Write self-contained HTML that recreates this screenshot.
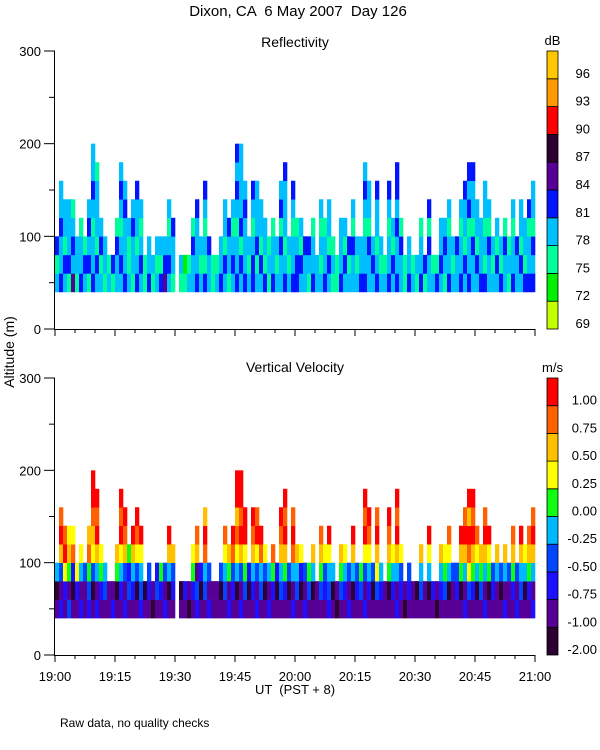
<!DOCTYPE html>
<html><head><meta charset="utf-8"><style>
html,body{margin:0;padding:0;background:#fff}
svg{display:block}
text{font-family:"Liberation Sans",sans-serif;fill:#000;white-space:pre}
</style></head><body>
<svg id="chart" width="600" height="750" viewBox="0 0 600 750">
<text x="298" y="16" font-size="15" text-anchor="middle" xml:space="preserve">Dixon, CA  6 May 2007  Day 126</text>
<text x="295" y="47" font-size="14" text-anchor="middle">Reflectivity</text>
<text x="295" y="372" font-size="14" text-anchor="middle">Vertical Velocity</text>
<text x="14" y="352" font-size="14" text-anchor="middle" transform="rotate(-90 14 352)">Altitude (m)</text>
<text x="295" y="694" font-size="13" text-anchor="middle" xml:space="preserve">UT  (PST + 8)</text>
<text x="60" y="727" font-size="12">Raw data, no quality checks</text>
<g id="top"></g>
<g id="bot"></g>
</svg>
<script>
// top altitude (m) of echo per 1-minute column after 19:00
const heights=[100,160,140,140,140,100,120,100,140,200,180,120,100,80,80,120,180,160,120,140,
160,140,80,100,80,100,100,100,140,120,40,80,80,80,120,140,100,160,100,80,
80,100,140,120,140,200,200,160,100,160,160,140,120,100,120,100,160,180,100,160,
120,120,100,100,120,80,140,120,140,100,80,120,120,100,140,100,100,180,160,100,
160,100,80,160,120,180,120,80,100,80,80,120,80,140,80,80,120,120,140,100,
100,140,160,180,180,140,120,160,140,100,120,100,120,100,140,100,140,120,140,160];
// reflectivity class per 20 m cell, from 40 m upward (0=69dB ... 9=96dB)
const dbCells=["32433233","43343333","34233433","24333233","53432333","23343333","43323323","34233333","24343333","43323433",
"34233323","32433333","23323333","32333333","24333333","33423333","34323433","43334333","32233333","23343333",
"43233433","34323333","22333333","43323333","23233333","32333333","42333333","54333333","34323333","23343333",
"33333333","23233333","21333333","32333333","33423333","43334333","32323333","42323433","33433333","22333333",
"32333333","43323333","34233333","23343333","34323333","43323434","34243333","43334333","32323333","44323433",
"32433333","34233333","42333333","23233333","43323333","32333333","33424333","43233343","32333333","43323433",
"44323333","34233333","33423333","23433333","43323333","33333333","32323333","43323333","34233333","23233333",
"22333333","43333333","34233333","32433333","33423333","32333333","43333333","43323434","33423333","34323333",
"43233433","32333333","32333333","43323433","34233333","43343443","33423333","22333333","43333333","32333333",
"23333333","43323333","24333333","33424333","32333333","42333333","34333333","23433333","43323333","32333333",
"33423333","43323333","34233433","43324343","33423343","34233333","43333333","42323333","33423333","32333333",
"34233333","42333333","33423333","23233333","43323333","33433333","34233333","42333333","43324333","43423343"];
// velocity class per 20 m cell, from 40 m upward (0=-2.00 ... 9=1.00)
const velCells=["10468999","21379899","12698799","31576999","10286999","12639999","21468999","11379999","23587999","10367899",
"21479899","12568999","13469999","11199999","21399999","10578999","12469899","21378999","13258999","12479899",
"10368999","23469999","10299999","12369999","01299999","13279999","12569999","21369999","10479999","12378999",
"11111111","10299999","12199999","01399999","12569999","23178999","10269999","13489799","21369999","11299999",
"11399999","10379999","13468999","21579899","12389999","10468799","21379899","13569999","10269999","12478999",
"21369899","13489999","10369999","21479999","12589999","10269999","13478999","12579899","10369999","21489899",
"13479999","10269999","21378999","13569999","10479999","11299999","13578999","12369999","23469999","10479999",
"01299999","13579999","12468999","21369999","10479999","12369999","13569999","21369899","12468999","10369999",
"13679899","12479999","11399999","10578999","12469999","21479899","12369999","01299999","12369999","11299999",
"10399999","13479999","11299999","10469999","12199999","01399999","12479999","13569999","10468999","11369999",
"12369999","10579899","21479899","13689799","12579899","10468999","13579999","21479899","10569999","12369999",
"11479999","10369999","21479999","11369999","12578999","21369999","13479999","10469999","12578999","21479899"];
const dbColors=["#c4ff00","#00f000","#00ff9c","#00bfff","#0014ff","#560096","#2c0030","#ff0000","#ff9a00","#ffc800"];
const dbLabels=["69","72","75","78","81","84","87","90","93","96"];
const velColors=["#2c0030","#560096","#1c10ff","#0046ff","#00b8ff","#10ff10","#ffff00","#ffc000","#ff6000","#ff0000"];
const velLabels=["-2.00","-1.00","-0.75","-0.50","-0.25","0.00","0.25","0.50","0.75","1.00"];
const xTickLabels=["19:00","19:15","19:30","19:45","20:00","20:15","20:30","20:45","21:00"];
const yTickLabels=["0","100","200","300"];

const NS="http://www.w3.org/2000/svg";
const X0=55,X1=535,T_MAX=120;
const xS=m=>X0+(m/T_MAX)*(X1-X0);
function mk(tag,attrs,parent){const e=document.createElementNS(NS,tag);for(const k in attrs)e.setAttribute(k,attrs[k]);parent.appendChild(e);return e;}

function panel(g,yBottom,yTop,cells,colors,labels,unit,showX){
  const yS=a=>yBottom-(a/300)*(yBottom-yTop);
  for(let i=0;i<heights.length;i++){
    const n=Math.round((heights[i]-40)/20);
    for(let c=0;c<n;c++){
      const r=mk('rect',{x:xS(i),y:yS(40+(c+1)*20),width:xS(i+1)-xS(i)+0.3,height:yS(40+c*20)-yS(40+(c+1)*20)+0.3,fill:colors[+cells[i][c]]},g);
      
      
    }
  }
  const ax=mk('path',{d:`M${X0-0.5} ${yTop} V${yBottom+0.5} H${X1+0.5}`,stroke:'#000','stroke-width':1,fill:'none'},g);
  
  
  for(let a=0;a<=300;a+=50){
    const major=a%100===0;
    const t=mk('line',{x1:X0-(major?11:6),x2:X0,y1:yS(a),y2:yS(a),stroke:'#000'},g);
    
    
    if(major){
      const tl=mk('text',{x:X0-14,y:yS(a)+5,'font-size':13,'text-anchor':'end'},g);
      tl.textContent=yTickLabels[a/100];
      
      
    }
  }
  for(let m=0;m<=T_MAX;m+=5){
    const major=m%15===0;
    const t=mk('line',{x1:xS(m),x2:xS(m),y1:yBottom,y2:yBottom+(major?7:4),stroke:'#000'},g);
    
    
    if(major&&showX){
      const tl=mk('text',{x:xS(m),y:yBottom+26,'font-size':13,'text-anchor':'middle'},g);
      tl.textContent=xTickLabels[m/15];
      
      
    }
  }
  const cbX=547,cbW=11,bh=(yBottom-yTop)/colors.length;
  for(let k=0;k<colors.length;k++){
    const y=yBottom-(k+1)*bh;
    const r=mk('rect',{x:cbX,y:y,width:cbW,height:bh,fill:colors[k],stroke:'#000','stroke-width':0.8},g);
    
    
    const tl=mk('text',{x:unit==='dB'?590:597,y:y+bh-1,'font-size':13,'text-anchor':'end'},g);
    tl.textContent=labels[k];
    
    
  }
  const u=mk('text',{x:cbX+cbW/2,y:yTop-6,'font-size':13,'text-anchor':'middle'},g);
  u.textContent=unit;
  
  
}
panel(document.getElementById('top'),329,51,dbCells,dbColors,dbLabels,'dB',false);
panel(document.getElementById('bot'),655,378,velCells,velColors,velLabels,'m/s',true);
</script>
</body></html>
